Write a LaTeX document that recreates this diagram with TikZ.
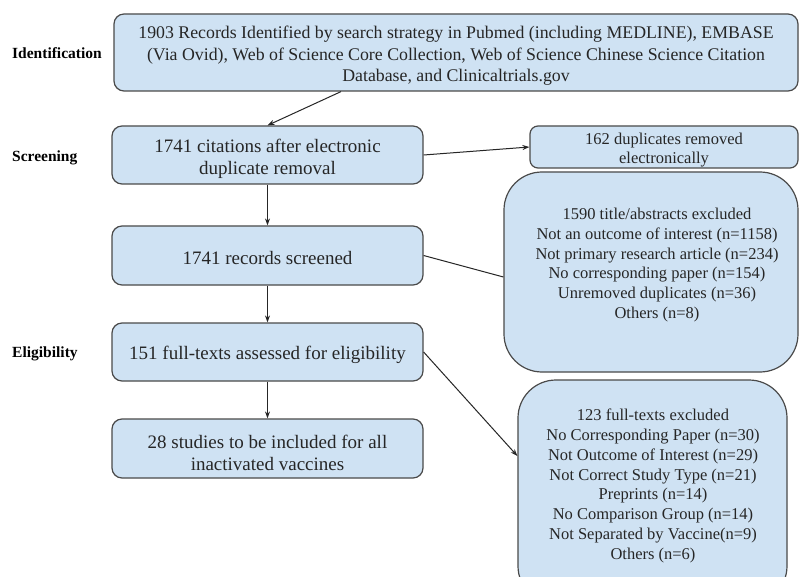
\documentclass[tikz,border=0pt]{standalone}
\usepackage{fontspec}
\setmainfont{Liberation Serif}
\usetikzlibrary{arrows.meta}
\definecolor{boxfill}{HTML}{CFE2F3}
\definecolor{boxline}{HTML}{4A4A4A}
\definecolor{txtcol}{HTML}{262626}
\tikzset{
  mainbox/.style={draw=boxline, line width=1.2pt, fill=boxfill, rounded corners=10pt, inner sep=0pt},
  maintext/.style={align=center, inner sep=0pt, text=txtcol, font=\fontsize{19}{22}\selectfont},
  sidebox/.style={draw=boxline, line width=1.2pt, fill=boxfill, rounded corners=38pt, inner sep=0pt},
  sidetext/.style={align=center, text=txtcol, inner sep=0pt, font=\fontsize{16.5}{19.8}\selectfont},
  stagelabel/.style={anchor=west, inner sep=0pt, text=black, font=\fontsize{15.5}{18}\selectfont\bfseries},
  conn/.style={draw=black!85, line width=1pt},
  arr/.style={conn, -{Stealth[length=7pt,width=5pt]}}
}
\begin{document}
\begin{tikzpicture}[x=1pt,y=-1pt]
\useasboundingbox (0,0) rectangle (800,577);
\clip (0,0) rectangle (800,577);
\fill[white] (0,0) rectangle (800,577);

\node[stagelabel] (lid) at (12,53) {Identification};
\node[stagelabel] (lsc) at (12,158) {Screening};
\node[stagelabel] (lel) at (12,354) {Eligibility};

\node[mainbox, minimum width=684pt, minimum height=77pt] (top) at (456,52.5) {};
\node[maintext, font=\fontsize{17.8}{21.5}\selectfont] (topt) at (456,56)
 {1903 Records Identified by search strategy in Pubmed (including MEDLINE), EMBASE\\
  (Via Ovid), Web of Science Core Collection, Web of Science Chinese Science Citation\\
  Database, and Clinicaltrials.gov};

\node[mainbox, minimum width=311pt, minimum height=58pt] (cit) at (267.5,155) {};
\node[maintext] (citt) at (267.5,159) {1741 citations after electronic\\ duplicate removal};

\node[mainbox, minimum width=311pt, minimum height=59pt] (rec) at (267.5,255.5) {};
\node[maintext] (rect) at (267.5,258) {1741 records screened};

\node[mainbox, minimum width=311pt, minimum height=58pt] (ft) at (267.5,352) {};
\node[maintext] (ftt) at (267.5,355) {151 full-texts assessed for eligibility};

\node[mainbox, minimum width=311pt, minimum height=59pt] (inc) at (267.5,448.5) {};
\node[maintext] (inct) at (267.5,452.5) {28 studies to be included for all\\ inactivated vaccines};

\node[mainbox, rounded corners=8pt, minimum width=268pt, minimum height=42pt] (dup) at (664,147) {};
\node[sidetext, font=\fontsize{16.5}{18.5}\selectfont] (dupt) at (664,150)
 {162 duplicates removed\\ electronically};

\node[sidebox, minimum width=294pt, minimum height=200pt] (ex1) at (651,272) {};
\node[sidetext] (ex1t) at (657,265)
 {1590 title/abstracts excluded\\
  Not an outcome of interest (n=1158)\\
  Not primary research article (n=234)\\
  No corresponding paper (n=154)\\
  Unremoved duplicates (n=36)\\
  Others (n=8)};

\node[sidebox, minimum width=269pt, minimum height=224pt] (ex2) at (652.5,492) {};
\node[sidetext] (ex2t) at (653,486)
 {123 full-texts excluded\\
  No Corresponding Paper (n=30)\\
  Not Outcome of Interest (n=29)\\
  Not Correct Study Type (n=21)\\
  Preprints (n=14)\\
  No Comparison Group (n=14)\\
  Not Separated by Vaccine(n=9)\\
  Others (n=6)};

\draw[arr] ([xshift=-115pt]top.south) -- (cit.north);
\draw[arr] (cit.east) -- (dup.west);
\draw[arr] (cit.south) -- (rec.north);
\draw[conn] (rec.east) -- ([yshift=-5pt]ex1.west);
\draw[arr] (rec.south) -- (ft.north);
\draw[arr] (ft.south) -- (inc.north);
\draw[arr] (ft.east) -- ([yshift=36pt]ex2.west);
\end{tikzpicture}
\end{document}
